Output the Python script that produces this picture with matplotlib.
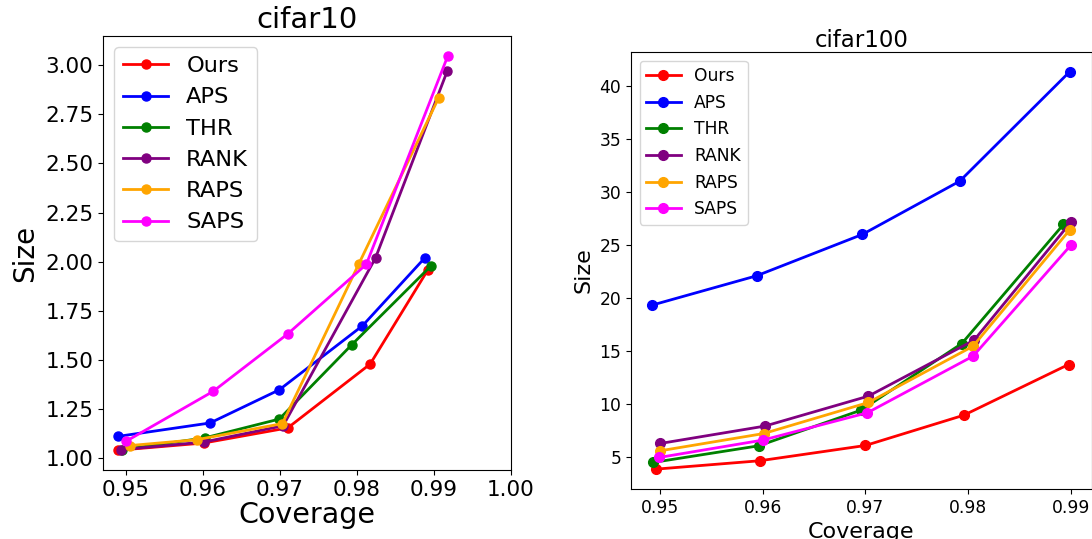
import matplotlib
matplotlib.use("Agg")
import matplotlib.pyplot as plt

methods = ["Ours", "APS", "THR", "RANK", "RAPS", "SAPS"]
colors = ["red", "blue", "green", "purple", "orange", "magenta"]

# cifar10: coverage / size per method
c10_cov = {
    "Ours": [0.9489, 0.9601, 0.9710, 0.9817, 0.9892],
    "APS":  [0.9490, 0.9609, 0.9699, 0.9807, 0.9888],
    "THR":  [0.9495, 0.9602, 0.9699, 0.9793, 0.9896],
    "RANK": [0.9493, 0.9601, 0.9704, 0.9824, 0.9917],
    "RAPS": [0.9505, 0.9592, 0.9703, 0.9802, 0.9906],
    "SAPS": [0.9500, 0.9613, 0.9710, 0.9812, 0.9918],
}
c10_size = {
    "Ours": [1.039, 1.076, 1.153, 1.478, 1.958],
    "APS":  [1.110, 1.178, 1.347, 1.673, 2.019],
    "THR":  [1.042, 1.102, 1.198, 1.576, 1.978],
    "RANK": [1.042, 1.081, 1.164, 2.019, 2.969],
    "RAPS": [1.063, 1.093, 1.175, 1.986, 2.834],
    "SAPS": [1.085, 1.339, 1.632, 1.986, 3.049],
}

# cifar100
c100_cov = {
    "Ours": [0.9496, 0.9597, 0.9700, 0.9796, 0.9898],
    "APS":  [0.9492, 0.9594, 0.9697, 0.9792, 0.9899],
    "THR":  [0.9493, 0.9596, 0.9696, 0.9794, 0.9893],
    "RANK": [0.9500, 0.9602, 0.9703, 0.9806, 0.9900],
    "RAPS": [0.9500, 0.9601, 0.9703, 0.9805, 0.9899],
    "SAPS": [0.9499, 0.9600, 0.9702, 0.9805, 0.9900],
}
c100_size = {
    "Ours": [3.90, 4.69, 6.13, 8.99, 13.77],
    "APS":  [19.37, 22.14, 26.04, 31.07, 41.38],
    "THR":  [4.53, 6.10, 9.47, 15.75, 26.98],
    "RANK": [6.32, 7.96, 10.79, 16.07, 27.17],
    "RAPS": [5.63, 7.26, 10.19, 15.50, 26.45],
    "SAPS": [5.00, 6.64, 9.22, 14.56, 25.00],
}

fig = plt.figure(figsize=(10.92, 5.39), dpi=100)

# left panel (bigger fonts)
ax1 = fig.add_axes([103/1092, 1 - 470/539, 408/1092, 434/539])
for m, c in zip(methods, colors):
    ax1.plot(c10_cov[m], c10_size[m], marker="o", color=c, lw=2, ms=6.5, label=m)
ax1.set_xlim(0.947, 1.0)
ax1.set_xticks([0.95, 0.96, 0.97, 0.98, 0.99, 1.00])
ax1.set_xticklabels(["0.95", "0.96", "0.97", "0.98", "0.99", "1.00"])
ax1.tick_params(labelsize=15.5)
ax1.set_xlabel("Coverage", fontsize=20.5, labelpad=1)
ax1.set_ylabel("Size", fontsize=20)
ax1.set_title("cifar10", fontsize=21, pad=6)
ax1.legend(loc="upper left", fontsize=16.2)

# right panel
ax2 = fig.add_axes([631/1092, 1 - 489/539, 460.5/1092, 437/539])
for m, c in zip(methods, colors):
    ax2.plot(c100_cov[m], c100_size[m], marker="o", color=c, lw=2, ms=7, label=m)
ax2.set_xticks([0.95, 0.96, 0.97, 0.98, 0.99])
ax2.tick_params(labelsize=12.3)
ax2.set_xlabel("Coverage", fontsize=16, labelpad=3.5)
ax2.set_ylabel("Size", fontsize=16)
ax2.set_title("cifar100", fontsize=16.5, pad=2)
ax2.legend(loc="upper left", fontsize=12.3)

fig.savefig("out.png", dpi=100)
